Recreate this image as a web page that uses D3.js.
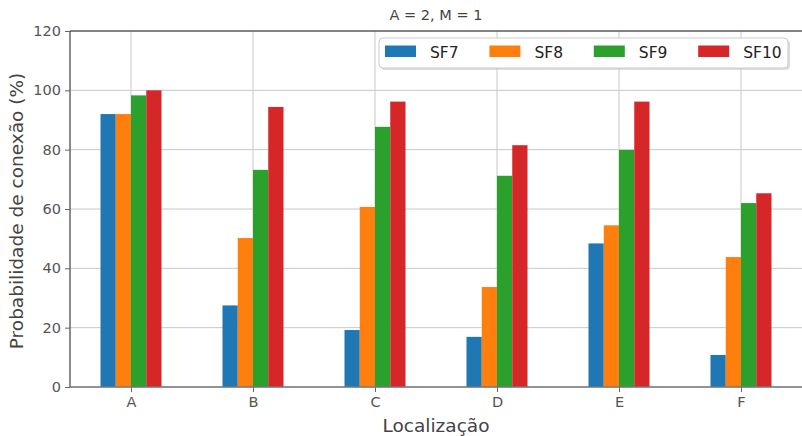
<!DOCTYPE html>
<html><head><meta charset="utf-8">
<script src="https://cdn.jsdelivr.net/npm/d3@7"></script>
<style>body{margin:0;background:#fff;} text{font-family:"DejaVu Sans",sans-serif;}</style>
</head><body>
<svg id="c" width="802" height="436"></svg>
<script>
const categories = ["A","B","C","D","E","F"];
const seriesNames = ["SF7","SF8","SF9","SF10"];
const sf7  = [92.0, 27.5, 19.2, 16.9, 48.4, 10.8];
const sf8  = [92.0, 50.2, 60.7, 33.7, 54.5, 43.8];
const sf9  = [98.3, 73.2, 87.7, 71.2, 79.9, 62.0];
const sf10 = [100.0, 94.4, 96.2, 81.5, 96.2, 65.3];
const colors = ["#1f77b4","#ff7f0e","#2ca02c","#d62728"];
const yTicks = [0,20,40,60,80,100,120];
const series = [sf7, sf8, sf9, sf10];

const svg = d3.select("#c");
const L = 70, R = 802, T = 31, B = 387;
const x = d3.scaleLinear().domain([-0.5, categories.length - 0.5]).range([L, R]);
const y = d3.scaleLinear().domain([0, 120]).range([B, T]);
const barW = 0.5 / series.length;

// grid
const g = svg.append("g");
g.selectAll(".gy").data(yTicks).join("line")
  .attr("x1", L).attr("x2", R).attr("y1", d => y(d)).attr("y2", d => y(d))
  .attr("stroke", "#c8c8c8").attr("stroke-width", 1);
g.selectAll(".gx").data(categories).join("line")
  .attr("x1", (d,i) => x(i)).attr("x2", (d,i) => x(i)).attr("y1", T).attr("y2", B)
  .attr("stroke", "#c8c8c8").attr("stroke-width", 1);

// bars
series.forEach((s, si) => {
  svg.append("g").selectAll("rect").data(s).join("rect")
    .attr("x", (d,i) => x(i - 0.25 + si * barW))
    .attr("width", x(barW) - x(0))
    .attr("y", d => y(d))
    .attr("height", d => y(0) - y(d))
    .attr("fill", colors[si]);
});

// axes
const yAxis = d3.axisLeft(y).tickValues(yTicks).tickSize(5).tickPadding(4);
const ya = svg.append("g").attr("transform", `translate(${L},0)`).call(yAxis);
const xAxis = d3.axisBottom(x).tickValues(d3.range(categories.length)).tickFormat(i => categories[i]).tickSize(5).tickPadding(5);
const xa = svg.append("g").attr("transform", `translate(0,${B})`).call(xAxis);
[ya, xa].forEach(a => {
  a.select(".domain").remove();
  a.attr("font-size", null).attr("font-family", null);
  a.selectAll(".tick line").attr("stroke", "#666");
  a.selectAll(".tick text").attr("fill", "#555").style("font-size", "14.5px");
});
// spines
svg.append("line").attr("x1", L).attr("x2", L).attr("y1", T).attr("y2", B).attr("stroke", "#666").attr("stroke-width", 1.5);
svg.append("line").attr("x1", L).attr("x2", R).attr("y1", B).attr("y2", B).attr("stroke", "#777").attr("stroke-width", 1.5);
svg.append("line").attr("x1", L).attr("x2", R).attr("y1", T).attr("y2", T).attr("stroke", "#222").attr("stroke-width", 1.2);

function txt(xp, yp, s, size, fill, rot) {
  return svg.append("text")
    .attr("transform", `translate(${xp},${yp})` + (rot ? ` rotate(${rot})` : ""))
    .attr("text-anchor", "middle").attr("fill", fill).style("font-size", size + "px").text(s);
}
// title & labels
txt((L + R) / 2, 20, "A = 2, M = 1", 14.5, "#444");
txt((L + R) / 2, 432, "Localização", 18.5, "#444");
txt(23, 211, "Probabilidade de conexão (%)", 18.5, "#444", -90);

// legend
const lg = svg.append("g");
lg.append("rect").attr("x", 381).attr("y", 40).attr("width", 409).attr("height", 30).attr("rx", 4)
  .attr("fill", "#bbb").attr("opacity", 0.5);
lg.append("rect").attr("x", 379).attr("y", 38).attr("width", 409).attr("height", 30).attr("rx", 4)
  .attr("fill", "#fff").attr("stroke", "#ccc");
seriesNames.forEach((n, i) => {
  const lx = 385 + i * 104.4;
  lg.append("rect").attr("x", lx).attr("y", 45.5).attr("width", 31).attr("height", 11.5).attr("fill", colors[i]);
  lg.append("text").attr("x", lx + 45).attr("y", 57.5)
    .attr("fill", "#222").style("font-size", "15.5px").text(n);
});
</script>
</body></html>
